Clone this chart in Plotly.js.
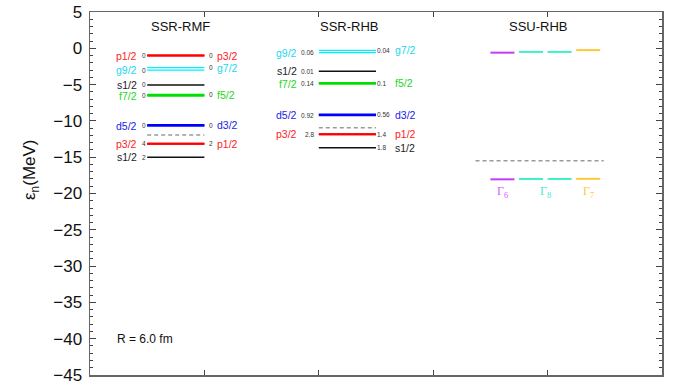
<!DOCTYPE html>
<html>
<head>
<meta charset="utf-8">
<script src="https://cdn.plot.ly/plotly-3.0.1.min.js"></script>
<style>html,body{margin:0;padding:0;background:#fff;}#chart{width:673px;height:390px;}</style>
</head>
<body>
<div id="chart"></div>
<script>
// ---------- data ----------
const modelTitles = ['SSR-RMF', 'SSR-RHB', 'SSU-RHB'];

// SSR-RMF
const rmfLeftLabel  = ['p1/2', 'g9/2', 's1/2', 'f7/2', 'd5/2', 'p3/2', 's1/2'];
const rmfLeftOcc    = ['0', '0', '0', '0', '0', '4', '2'];
const rmfLeftE      = [-1.0, -3.0, -5.05, -6.55, -10.68, -13.15, -15.0];
const rmfRightLabel = ['p3/2', 'g7/2', '', 'f5/2', 'd3/2', 'p1/2', ''];
const rmfRightOcc   = ['0', '0', '', '0', '0', '2', ''];
const rmfRightE     = [-1.0, -2.66, null, -6.4, -10.58, -13.15, null];
const rmfFermi = -11.95;

// SSR-RHB
const rhbLeftLabel  = ['g9/2', 's1/2', 'f7/2', 'd5/2', 'p3/2', ''];
const rhbLeftOcc    = ['0.06', '0.01', '0.14', '0.92', '2.8', ''];
const rhbLeftE      = [-0.6, -3.15, -4.9, -9.22, -11.85, null];
const rhbRightLabel = ['g7/2', '', 'f5/2', 'd3/2', 'p1/2', 's1/2'];
const rhbRightOcc   = ['0.04', '', '0.1', '0.56', '1.4', '1.8'];
const rhbRightE     = [-0.28, null, -4.78, -9.12, -11.85, -13.7];
const rhbFermi = -10.95;

// SSU-RHB
const ssuIrrep  = ['6', '8', '8', '7'];
const ssuUpperE = [-0.6, -0.5, -0.5, -0.25];
const ssuLowerE = [-18.05, -18.0, -18.0, -17.98];
const ssuFermi = -15.5;
const ssuLabelIrrep = ['6', '8', '7'];

const noteText = 'R = 6.0 fm';

// ---------- styles ----------
const lineColor = {p: '#ff0000', g: '#00f0ff', s: '#111111', f: '#00e000', d: '#0000ff'};
const textColor = {p: '#ff1a1a', g: '#22d8ee', s: '#222222', f: '#22d822', d: '#1a1aee'};
const lineWidth = {p: 2, g: 1.3, s: 1.5, f: 2, d: 2};
const irrepLine = {'6': '#c63cf5', '8': '#3ff0cc', '7': '#ffc83a'};
const irrepText = {'6': '#d25cff', '8': '#48e8cc', '7': '#ffc840'};

const FONT = 'Liberation Sans, Arial, Helvetica, sans-serif';
const traces = [];
const annotations = [];

function level(x0, x1, e, color, w, dash) {
  traces.push({x: [x0, x1], y: [e, e], mode: 'lines', type: 'scatter',
    line: {color: color, width: w, dash: dash || 'solid'}, hoverinfo: 'skip', showlegend: false});
}
function ann(x, y, text, opts) {
  if (!text) return;
  annotations.push(Object.assign({x: x, y: y, xref: 'x', yref: 'y', text: text, showarrow: false,
    yanchor: 'middle', borderpad: 0, borderwidth: 0}, opts));
}

function column(x0, x1, lL, lO, lE, rL, rO, rE, fermi, sh) {
  for (let i = 0; i < lE.length; i++) {
    const key = (lL[i] || rL[i]).charAt(0);
    if (lE[i] !== null) level(x0, x1, lE[i], lineColor[key], lineWidth[key]);
    if (rE[i] !== null) level(x0, x1, rE[i], lineColor[key], lineWidth[key]);
    if (lL[i]) {
      ann(x0, lE[i], lL[i], {xanchor: 'right', xshift: sh.lab, font: {family: FONT, size: 10.5, color: textColor[key]}});
      ann(x0, lE[i], lO[i], {xanchor: 'right', xshift: sh.occ, font: {family: FONT, size: 6.5, color: '#333'}});
    }
    if (rL[i]) {
      ann(x1, rE[i], rO[i], {xanchor: 'left', xshift: sh.rocc, font: {family: FONT, size: 6.5, color: '#333'}});
      ann(x1, rE[i], rL[i], {xanchor: 'left', xshift: sh.rlab, font: {family: FONT, size: 10.5, color: textColor[key]}});
    }
  }
  level(x0, x1, fermi, '#9a9a9a', 1.5, '4px,3px');
}

column(0.5, 1.0, rmfLeftLabel, rmfLeftOcc, rmfLeftE, rmfRightLabel, rmfRightOcc, rmfRightE, rmfFermi,
  {lab: -10, occ: -1, rocc: 5, rlab: 13});
column(2.0, 2.5, rhbLeftLabel, rhbLeftOcc, rhbLeftE, rhbRightLabel, rhbRightOcc, rhbRightE, rhbFermi,
  {lab: -22, occ: -5, rocc: 1, rlab: 19});

// SSU-RHB segments
const segStart = 3.5, segW = 0.21, segStep = 0.25;
for (let i = 0; i < ssuIrrep.length; i++) {
  const a = segStart + i * segStep, b = a + segW;
  level(a, b, ssuUpperE[i], irrepLine[ssuIrrep[i]], 2);
  level(a, b, ssuLowerE[i], irrepLine[ssuIrrep[i]], 2);
}
level(3.37, 4.49, ssuFermi, '#9a9a9a', 1.5, '4px,3px');
const irrepLabelX = [3.605, 3.98, 4.355];
for (let i = 0; i < ssuLabelIrrep.length; i++) {
  ann(irrepLabelX[i], -19.75, 'Γ<sub>' + ssuLabelIrrep[i] + '</sub>',
    {xanchor: 'center', font: {family: 'Liberation Serif, Times New Roman, serif', size: 12, color: irrepText[ssuLabelIrrep[i]]}});
}

// titles
const titleX = [0.79, 2.27, 3.92];
for (let i = 0; i < modelTitles.length; i++) {
  ann(titleX[i], 2.95, modelTitles[i], {xanchor: 'center', font: {family: FONT, size: 13, color: '#111'}});
}
ann(0.24, -40.0, noteText, {xanchor: 'left', font: {family: FONT, size: 12, color: '#111'}});

// y title
annotations.push({xref: 'paper', yref: 'paper', x: -0.103, y: 0.565, text: 'ε<sub>n</sub>(MeV)',
  textangle: -90, showarrow: false, xanchor: 'center', yanchor: 'middle',
  font: {family: FONT, size: 17, color: '#111'}});

const layout = {
  width: 673, height: 390,
  margin: {l: 90, r: 11, t: 12, b: 15, pad: 0},
  paper_bgcolor: '#fff', plot_bgcolor: '#fff',
  showlegend: false,
  xaxis: {range: [0, 5], tickvals: [1, 2, 3, 4], ticks: 'inside', ticklen: 5, tickwidth: 1, tickcolor: '#444',
    showticklabels: false, showline: true, mirror: 'ticks', linecolor: '#666', linewidth: 1.5,
    showgrid: false, zeroline: false, fixedrange: true},
  yaxis: {range: [-45, 5], dtick: 5, tick0: 0, ticks: 'inside', ticklen: 6, tickwidth: 1, tickcolor: '#444',
    minor: {dtick: 1, ticks: 'inside', ticklen: 3, tickcolor: '#444', showgrid: false},
    showline: true, mirror: 'ticks', linecolor: '#666', linewidth: 1.5,
    showgrid: false, zeroline: false, fixedrange: true,
    tickfont: {family: FONT, size: 17, color: '#111'}, ticklabelstandoff: 3},
  annotations: annotations
};

Plotly.newPlot('chart', traces, layout, {staticPlot: true, displayModeBar: false});
</script>
</body>
</html>
